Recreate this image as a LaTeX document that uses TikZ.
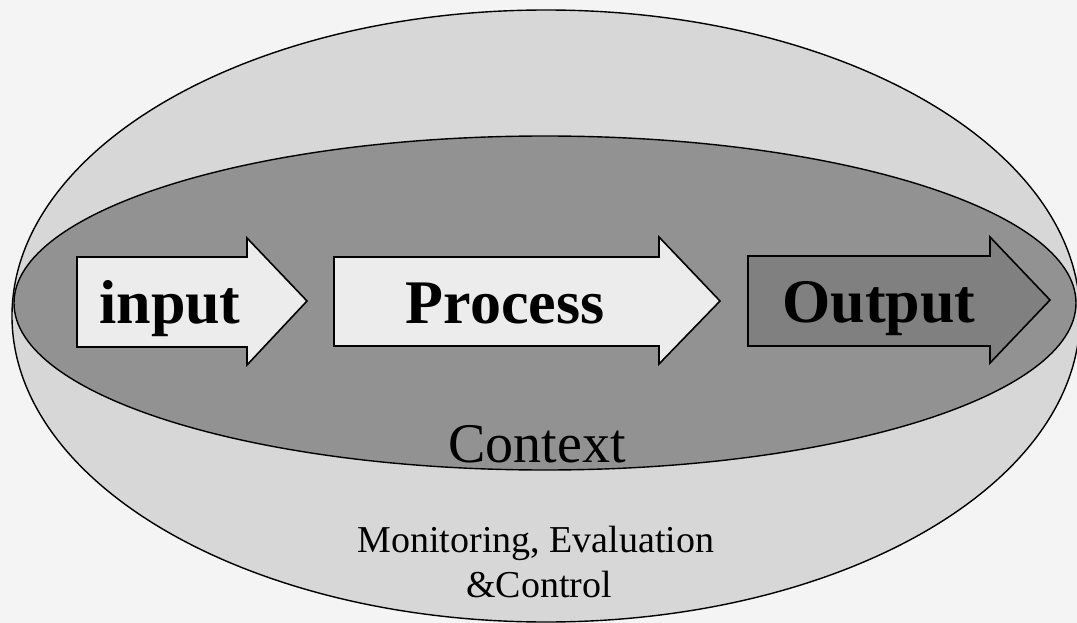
\documentclass[tikz,border=0pt]{standalone}
\usepackage{fontspec}
\setmainfont{Liberation Serif}
\definecolor{bgcol}{RGB}{244,244,244}
\definecolor{outercol}{RGB}{215,215,215}
\definecolor{innercol}{RGB}{146,146,146}
\definecolor{lightarrow}{RGB}{236,236,236}
\definecolor{darkarrow}{RGB}{128,128,128}
\tikzset{
  ring/.style={draw=black, line width=1.4pt},
  arrowbox/.style={draw=black, line width=1.6pt, line join=miter},
  bigword/.style={font=\fontsize{62}{70}\selectfont\bfseries, anchor=base, inner sep=0pt},
  ctxword/.style={font=\fontsize{56}{62}\selectfont, anchor=base, inner sep=0pt},
  mecword/.style={font=\fontsize{38}{45}\selectfont, anchor=base, inner sep=0pt},
}
\begin{document}
\begin{tikzpicture}[x=1pt,y=-1pt]
\useasboundingbox (0,0) rectangle (1077,623);
\fill[bgcol] (0,0) rectangle (1077,623);
\begin{scope}
\clip (0,0) rectangle (1077,623);
% outer ellipse
\path[ring, fill=outercol] (546,316) ellipse [x radius=534, y radius=306];
% inner ellipse
\path[ring, fill=innercol] (545,303) ellipse [x radius=531, y radius=167];
\end{scope}
% arrows
\path[arrowbox, fill=lightarrow] (77,257) -- (247,257) -- (247,238) -- (307,301) -- (247,365) -- (247,347) -- (77,347) -- cycle;
\path[arrowbox, fill=lightarrow] (334,257) -- (659,257) -- (659,237) -- (720,301) -- (659,364) -- (659,346) -- (334,346) -- cycle;
\path[arrowbox, fill=darkarrow] (748,256) -- (990,256) -- (990,237) -- (1050,300) -- (990,363) -- (990,346) -- (748,346) -- cycle;
% labels
\node[bigword] (input) at (170,323) {input};
\node[bigword] (process) at (505,323) {Process};
\node[bigword] (output) at (879,322) {Output};
\node[ctxword] (context) at (537,462) {Context};
\node[mecword] (mec1) at (536,552) {Monitoring, Evaluation};
\node[mecword] (mec2) at (539,597) {\&Control};
\end{tikzpicture}
\end{document}
